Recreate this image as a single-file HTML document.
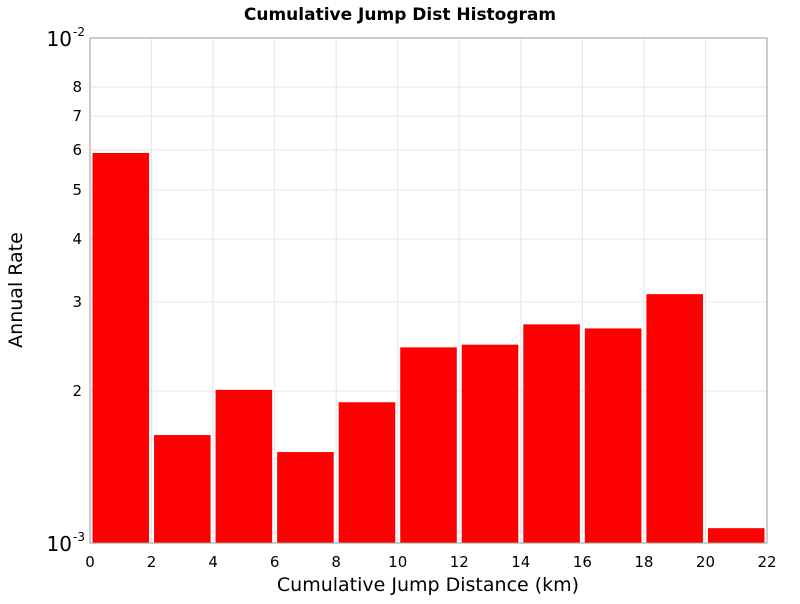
<!DOCTYPE html>
<html><head><meta charset="utf-8"><style>
body{margin:0;background:#fff;font-family:"DejaVu Sans","Liberation Sans",sans-serif}
</style></head><body>
<svg width="800" height="600" xmlns="http://www.w3.org/2000/svg">
<g id="grid"></g>
<g id="bars"></g>
<rect x="90" y="38" width="677" height="505" fill="none" stroke="#999" stroke-width="1"/>
<g id="xt"></g>
<g id="yt"></g>
<text x="400" y="20" text-anchor="middle" font-size="17" font-weight="bold">Cumulative Jump Dist Histogram</text>
<text x="428" y="591" text-anchor="middle" font-size="19">Cumulative Jump Distance (km)</text>
<text x="22" y="290" text-anchor="middle" font-size="19" transform="rotate(-90 22 290)">Annual Rate</text>
</svg>
<script>
const binStarts=[0,2,4,6,8,10,12,14,16,18,20];
const rates=[5.92e-3,1.636e-3,2.01e-3,1.514e-3,1.90e-3,2.44e-3,2.47e-3,2.71e-3,2.66e-3,3.11e-3,1.07e-3];
const xTicks=[0,2,4,6,8,10,12,14,16,18,20,22];
const yMinorTicks=[2,3,4,5,6,7,8];
const NS="http://www.w3.org/2000/svg";
const X0=90,X1=767,Y0=543,Y1=38;
const xs=v=>X0+(v-0)/22*(X1-X0);
const ys=v=>Y0-(Math.log10(v)+3)*(Y0-Y1);
function mk(t,a,p){const e=document.createElementNS(NS,t);for(const k in a)e.setAttribute(k,a[k]);p.appendChild(e);return e;}
const grid=document.getElementById('grid'),bars=document.getElementById('bars'),xt=document.getElementById('xt'),yt=document.getElementById('yt');
xTicks.forEach(v=>{
 const l=mk('line',{x1:xs(v),x2:xs(v),y1:Y1,y2:Y0,stroke:'#e6e6e6'},grid);
 
 
 const t=mk('text',{x:xs(v),y:567,'text-anchor':'middle','font-size':15},xt);t.textContent=v;
 
 
});
yMinorTicks.forEach(m=>{
 const v=m*1e-3;
 const l=mk('line',{x1:X0,x2:X1,y1:ys(v),y2:ys(v),stroke:'#e6e6e6'},grid);
 
 
 const t=mk('text',{x:82,y:ys(v)+5,'text-anchor':'end','font-size':15},yt);t.textContent=m;
 
 
});
[[-3,Y0],[-2,Y1]].forEach(([p,y])=>{
 const t=mk('text',{x:72,y:y+8,'text-anchor':'end','font-size':20},yt);t.textContent='10';
 
 
 const s=mk('text',{x:73,y:y-2,'font-size':12},yt);s.textContent=p;
 
 
});
binStarts.forEach((b,i)=>{
 const x=xs(b)+2.5,w=xs(b+2)-xs(b)-5,y=ys(rates[i]);
 const r=mk('rect',{x:x,y:y,width:w,height:Y0-y,fill:'#ff0000'},bars);
 
 
});
</script>
</body></html>
